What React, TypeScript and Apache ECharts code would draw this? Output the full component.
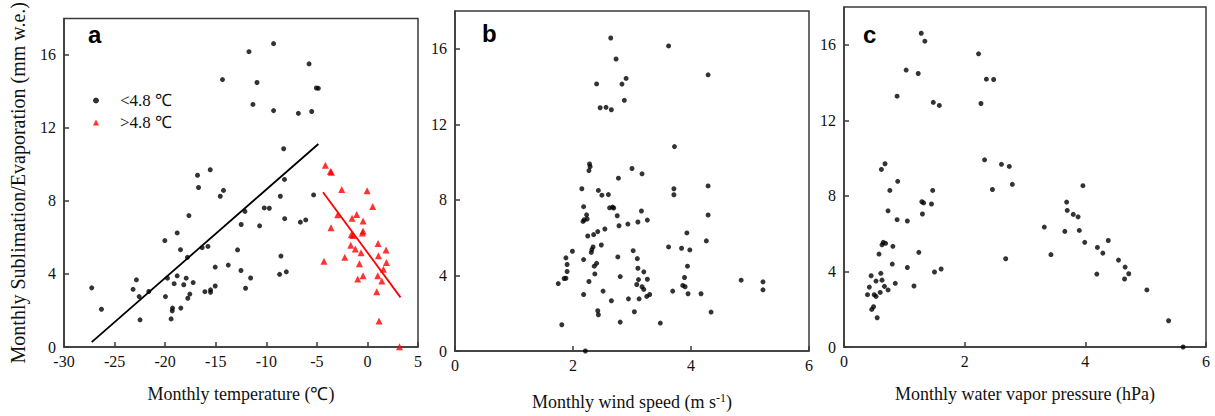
import React, { useEffect, useRef } from "react";
import * as echarts from "echarts";

// Panel a: monthly temperature (°C) vs sublimation/evaporation (mm w.e.)
const coldTempPoints: number[][] = [
  [-11.71, 16.18], [-14.33, 14.65], [-10.92, 14.49], [-11.32, 13.29], [-15.54, 9.71], [-16.8, 9.41],
  [-9.28, 16.62], [-5.77, 15.51], [-5.05, 14.19], [-4.85, 14.17], [-9.28, 12.95], [-6.83, 12.8],
  [-5.51, 12.9], [-8.28, 10.86], [-8.2, 9.18], [-16.7, 8.74], [-14.23, 8.58], [-14.55, 8.26],
  [-17.65, 7.2], [-12.11, 7.43], [-12.48, 6.71], [-10.66, 6.64], [-18.81, 6.25], [-20.03, 5.83],
  [-18.48, 5.33], [-16.34, 5.44], [-15.77, 5.51], [-17.8, 4.91], [-12.84, 5.32], [-13.76, 4.49],
  [-15.05, 4.38], [-12.5, 4.19], [-11.55, 3.78], [-22.84, 3.68], [-27.26, 3.24], [-23.17, 3.16],
  [-21.62, 3.04], [-22.57, 2.76], [-19.77, 3.77], [-18.81, 3.9], [-17.92, 3.77], [-19.11, 3.47],
  [-18.16, 3.41], [-17.23, 3.53], [-19.97, 2.76], [-17.56, 2.9], [-17.76, 2.67], [-16.07, 3.03],
  [-15.51, 3.13], [-15.51, 3.0], [-15.05, 3.34], [-12.05, 3.22], [-26.3, 2.07], [-19.27, 2.13],
  [-19.3, 1.98], [-18.45, 2.13], [-22.48, 1.49], [-19.41, 1.54], [-8.61, 8.26], [-5.32, 8.33],
  [-10.2, 7.62], [-9.7, 7.6], [-8.18, 7.03], [-6.63, 6.84], [-6.1, 6.96], [-8.55, 4.98],
  [-8.68, 3.98], [-8.02, 4.12],
];
const warmTempPoints: number[][] = [
  [-4.16, 9.96], [-3.66, 9.62], [-3.56, 9.57], [-2.54, 8.63], [-0.03, 8.56], [0.52, 7.7],
  [-2.94, 7.24], [-1.52, 7.05], [-1.06, 7.26], [-0.43, 6.9], [-3.6, 6.53], [-0.43, 6.36],
  [-0.5, 6.25], [-1.58, 6.16], [-1.45, 6.11], [-0.63, 5.16], [-1.2, 5.37], [-1.65, 5.57],
  [1.05, 5.67], [1.84, 5.32], [1.09, 5.0], [-2.24, 4.91], [-4.3, 4.7], [1.88, 4.63],
  [-0.79, 4.56], [1.58, 4.26], [-0.43, 3.9], [-0.96, 3.73], [1.02, 3.9], [1.42, 3.62],
  [0.92, 3.03], [1.15, 1.42], [3.17, 0.01],
];
const coldFitLine: number[][] = [[-27.26, 0.27], [-4.85, 11.12]];
const warmFitLine: number[][] = [[-4.39, 8.48], [3.27, 2.72]];

// Panel b: monthly wind speed (m s-1)
const windPoints: number[][] = [
  [2.64, 16.57], [2.73, 15.46], [2.4, 14.14], [2.83, 14.13], [2.9, 14.43], [2.87, 13.27],
  [2.46, 12.88], [2.56, 12.9], [2.65, 12.77], [2.28, 9.9], [2.29, 9.76], [2.27, 9.55],
  [3.0, 9.66], [2.77, 9.15], [3.62, 16.15], [4.29, 14.62], [3.72, 10.82], [3.17, 9.38],
  [2.15, 8.59], [2.43, 8.5], [2.49, 8.25], [2.6, 8.28], [2.18, 7.64], [2.62, 7.58],
  [2.67, 7.62], [2.69, 7.57], [2.23, 7.21], [2.24, 6.99], [2.17, 6.86], [2.19, 6.95],
  [2.75, 7.16], [2.78, 6.63], [2.93, 6.72], [3.1, 6.83], [2.54, 6.46], [2.42, 6.32],
  [2.35, 6.16], [2.25, 6.09], [2.48, 5.61], [2.34, 5.51], [2.32, 5.37], [2.31, 5.22],
  [1.99, 5.28], [1.88, 4.93], [2.18, 4.84], [2.76, 4.98], [3.02, 5.31], [3.09, 4.89],
  [1.9, 4.58], [2.4, 4.64], [2.36, 4.49], [1.9, 4.21], [2.37, 4.08], [1.88, 3.85],
  [1.85, 3.84], [2.8, 3.94], [3.1, 4.38], [3.11, 3.78], [1.75, 3.57], [2.27, 3.68],
  [3.08, 3.52], [2.51, 3.17], [2.18, 2.99], [2.65, 2.66], [2.94, 2.76], [3.12, 2.76],
  [2.42, 2.13], [2.43, 1.92], [3.04, 2.08], [2.8, 1.53], [1.81, 1.39], [2.21, 0.0],
  [3.71, 8.59], [3.71, 8.27], [4.29, 8.74], [3.16, 7.41], [3.26, 6.93], [4.29, 7.2],
  [3.93, 6.25], [4.26, 5.83], [3.62, 5.51], [3.84, 5.44], [3.98, 5.35], [3.2, 4.19],
  [3.26, 3.8], [3.17, 3.4], [3.2, 3.26], [3.3, 2.99], [3.25, 2.89], [3.94, 4.49],
  [3.89, 3.89], [3.86, 3.47], [3.9, 3.4], [3.69, 3.17], [3.95, 3.03], [4.17, 3.03],
  [4.85, 3.75], [5.22, 3.66], [5.22, 3.24], [4.34, 2.06], [3.48, 1.48],
];

// Panel c: monthly water vapor pressure (hPa)
const vaporPoints: number[][] = [
  [1.28, 16.61], [1.34, 16.19], [2.23, 15.52], [1.03, 14.66], [1.23, 14.48], [2.36, 14.18],
  [2.48, 14.16], [0.88, 13.28], [1.48, 12.95], [1.58, 12.79], [2.27, 12.89], [0.62, 9.4],
  [0.68, 9.7], [2.33, 9.91], [2.61, 9.67], [2.74, 9.56], [0.89, 8.77], [0.76, 8.29],
  [1.47, 8.29], [2.46, 8.34], [2.79, 8.61], [1.29, 7.69], [1.32, 7.63], [1.45, 7.57],
  [0.73, 7.21], [1.3, 7.04], [0.88, 6.74], [1.05, 6.67], [0.65, 5.54], [0.69, 5.49],
  [0.63, 5.41], [0.81, 5.33], [1.24, 5.01], [0.58, 4.92], [2.68, 4.67], [0.8, 4.39],
  [1.05, 4.21], [1.61, 4.13], [1.5, 3.97], [0.61, 3.9], [0.45, 3.77], [0.63, 3.54],
  [0.53, 3.49], [0.85, 3.37], [0.42, 3.17], [0.67, 3.21], [1.16, 3.23], [0.73, 3.02],
  [0.6, 2.89], [0.39, 2.77], [0.5, 2.77], [0.53, 2.68], [0.49, 2.13], [0.46, 1.99],
  [0.55, 1.55], [3.96, 8.54], [3.69, 7.67], [3.7, 7.23], [3.8, 7.02], [3.88, 6.89],
  [3.32, 6.35], [3.66, 6.12], [3.9, 6.17], [3.99, 5.54], [4.38, 5.64], [4.2, 5.27],
  [3.43, 4.89], [4.29, 4.97], [4.55, 4.6], [4.66, 4.23], [4.72, 3.88], [4.19, 3.86],
  [4.65, 3.6], [5.02, 3.02], [5.38, 1.39], [5.62, 0.0],
];

const legendNames = ["<4.8 ℃", ">4.8 ℃"];
const panelLetters = ["a", "b", "c"];
const xTitles = ["Monthly temperature (℃)", "Monthly wind speed (m s{sup|-1})", "Monthly water vapor pressure (hPa)"];
const yTitle = "Monthly Sublimation/Evaporation (mm w.e.)";
const xRanges = [
  { min: -30, max: 5, interval: 5 },
  { min: 0, max: 6, interval: 2 },
  { min: 0, max: 6, interval: 2 },
];
const yRange = { min: 0, max: 18, interval: 4 };

const SERIF = "'Liberation Serif', 'Times New Roman', serif";
const AXIS_COLOR = "#3a3a3a";

export default function App() {
  const ref = useRef<HTMLDivElement>(null);

  useEffect(() => {
    if (!ref.current) return;
    const chart = echarts.init(ref.current, undefined, { renderer: "svg" });

    const grids = [
      { left: 64, top: 7, width: 354, height: 340 },
      { left: 455, top: 11, width: 354, height: 341 },
      { left: 844, top: 7, width: 362, height: 340 },
    ];
    const nameGaps = [38, 41, 38];

    const axisCommon = {
      axisLine: { show: true, onZero: false, lineStyle: { color: AXIS_COLOR, width: 1.5 } },
      axisTick: { show: true, inside: true, length: 5, lineStyle: { color: AXIS_COLOR, width: 1.5 } },
      splitLine: { show: false },
    };

    const option: any = {
      animation: false,
      backgroundColor: "#ffffff",
      grid: grids.map((g) => ({
        ...g,
        show: true,
        borderColor: AXIS_COLOR,
        borderWidth: 1.5,
        backgroundColor: "transparent",
      })),
      xAxis: xRanges.map((r, i) => ({
        type: "value",
        gridIndex: i,
        ...r,
        ...axisCommon,
        axisLabel: { fontFamily: SERIF, fontSize: 16, color: "#111", margin: 6 },
        name: xTitles[i],
        nameLocation: "middle",
        nameGap: nameGaps[i],
        nameTextStyle: {
          fontFamily: SERIF,
          fontSize: 18,
          color: "#111",
          rich: {
            sup: { fontFamily: SERIF, fontSize: 12, color: "#111", verticalAlign: "top", padding: [0, 0, 8, 0] },
          },
        },
      })),
      yAxis: [0, 1, 2].map((i) => ({
        type: "value",
        gridIndex: i,
        ...yRange,
        ...axisCommon,
        axisLabel: { fontFamily: SERIF, fontSize: 16, color: "#111", margin: 8, showMaxLabel: false },
        name: i === 0 ? yTitle : "",
        nameLocation: "middle",
        nameGap: 36,
        nameTextStyle: { fontFamily: SERIF, fontSize: 20, color: "#111" },
      })),
      legend: {
        data: legendNames,
        orient: "vertical",
        left: 88,
        top: 87,
        itemWidth: 6,
        itemHeight: 6,
        itemGap: 5,
        textStyle: { fontFamily: SERIF, fontSize: 17, color: "#111", padding: [0, 0, 0, 16] },
      },
      graphic: panelLetters.map((t, i) => ({
        type: "text",
        left: [88, 482, 863][i],
        top: [22, 21, 22][i],
        style: { text: t, fontFamily: "'Liberation Sans', Arial, sans-serif", fontWeight: "bold", fontSize: 24, fill: "#000" },
      })),
      series: [
        {
          type: "scatter",
          name: legendNames[0],
          xAxisIndex: 0,
          yAxisIndex: 0,
          data: coldTempPoints,
          symbol: "circle",
          symbolSize: 5,
          itemStyle: { color: "#000" },
        },
        {
          type: "scatter",
          name: legendNames[1],
          xAxisIndex: 0,
          yAxisIndex: 0,
          data: warmTempPoints,
          symbol: "triangle",
          symbolSize: 7,
          itemStyle: { color: "#ff0000" },
        },
        {
          type: "line",
          xAxisIndex: 0,
          yAxisIndex: 0,
          data: coldFitLine,
          showSymbol: false,
          lineStyle: { color: "#000", width: 1.8 },
        },
        {
          type: "line",
          xAxisIndex: 0,
          yAxisIndex: 0,
          data: warmFitLine,
          showSymbol: false,
          lineStyle: { color: "#ff0000", width: 1.8 },
        },
        {
          type: "scatter",
          xAxisIndex: 1,
          yAxisIndex: 1,
          data: windPoints,
          symbol: "circle",
          symbolSize: 5,
          itemStyle: { color: "#000" },
        },
        {
          type: "scatter",
          xAxisIndex: 2,
          yAxisIndex: 2,
          data: vaporPoints,
          symbol: "circle",
          symbolSize: 5,
          itemStyle: { color: "#000" },
        },
      ],
    };

    chart.setOption(option);
    return () => chart.dispose();
  }, []);

  return (
    <div
      ref={ref}
      style={{ position: "absolute", left: 0, top: 0, width: 1215, height: 416, background: "#fff" }}
    />
  );
}
